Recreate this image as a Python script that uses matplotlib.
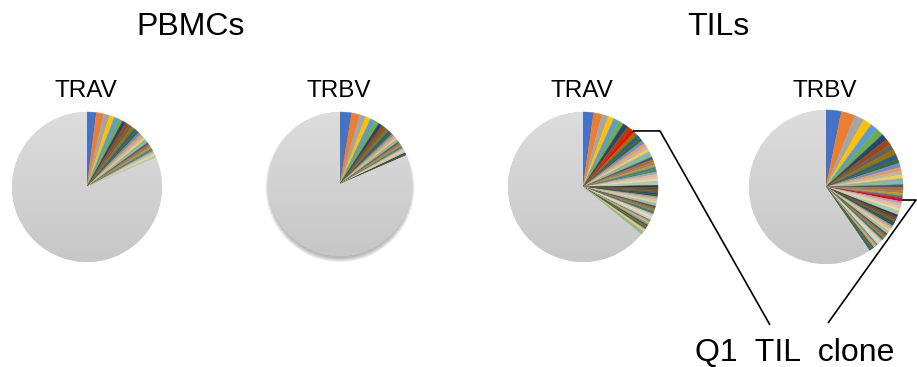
import colorsys
import numpy as np
import matplotlib
matplotlib.use("Agg")
import matplotlib.pyplot as plt
from matplotlib.patches import Circle
from matplotlib.colors import to_rgb

plt.rcParams['font.family'] = ['Liberation Sans', 'DejaVu Sans']

W, H = 917, 367

# Group titles and panel labels
groups = ["PBMCs", "TILs"]
panel_labels = ["TRAV", "TRBV", "TRAV", "TRBV"]
callout_text = "Q1  TIL  clone"

# V-gene usage (%); last entry of each list is the pooled remainder (grey)
pbmc_trav = [2.0, 1.6, 1.3, 1.1, 1.0, 0.9, 0.8, 0.8, 0.7, 0.7,
             0.6, 0.6, 0.55, 0.5, 0.5, 0.45, 0.45, 0.4, 0.4, 0.4,
             0.35, 0.35, 0.3, 0.3, 0.3, 0.3, 0.25, 0.25, 0.25, 0.2,
             81.4]
pbmc_trbv = [2.6, 1.8, 1.4, 1.2, 1.1, 1.0, 0.8, 0.7, 0.6, 0.6,
             0.5, 0.5, 0.45, 0.4, 0.4, 0.35, 0.35, 0.3, 0.3, 0.3,
             0.3, 0.25, 0.25, 0.25, 0.2, 0.2, 0.2, 0.2, 0.2, 0.2,
             0.15, 0.15, 0.3,
             81.5]
til_trav = [2.3, 1.8, 1.4, 1.3, 1.2, 1.1, 1.1, 1.0, 0.8,
            0.9, 0.8, 0.8, 0.7, 0.7, 0.7, 0.65, 0.65, 0.6, 0.6,
            0.6, 0.55, 0.55, 0.55, 0.5, 0.5, 0.5, 0.5, 0.45, 0.45,
            0.45, 0.45, 0.4, 0.4, 0.4, 0.4, 0.4, 0.35, 0.35, 0.35,
            0.35, 0.35, 0.3, 0.3, 0.3, 0.3, 0.3, 0.3, 0.25, 0.25,
            0.25, 0.25, 0.25, 0.25, 0.2, 0.2, 0.2, 0.2, 0.2, 0.2,
            0.2, 0.2, 0.15, 0.15, 0.15, 0.15, 0.15, 0.1, 0.1, 0.1,
            0.4, 0.4, 0.35,
            64.3]
til_trbv = [3.2, 2.9, 2.0, 1.8, 1.6, 1.5, 1.3, 1.3, 1.2, 1.1,
            1.0, 0.9, 0.9, 0.8, 0.8, 0.7, 0.7, 0.6, 0.6, 0.6,
            0.55, 0.55, 0.5, 0.7,
            0.5, 0.5, 0.5, 0.45, 0.45, 0.45, 0.45, 0.4, 0.4, 0.4,
            0.4, 0.4, 0.35, 0.35, 0.35, 0.35, 0.3, 0.3, 0.3, 0.3,
            0.3, 0.25, 0.25, 0.25, 0.25, 0.25, 0.2, 0.2, 0.2, 0.2,
            0.2, 0.2, 0.2, 0.15, 0.15, 0.15, 0.15, 0.1, 0.1, 0.1,
            0.3, 0.25,
            59.0]
panels = [pbmc_trav, pbmc_trbv, til_trav, til_trbv]
# slice holding the Q1 TIL clone in each TIL panel
clone_index = [None, None, 8, 23]

# layout in pixel units (x, y from top, radius)
centers = [(87, 187, 75), (340, 184, 72), (583, 187, 75), (826, 187, 77)]
shadow = [False, True, False, False]

# Office-style series palette
accents = ["#4472C4", "#ED7D31", "#A5A5A5", "#FFC000", "#5B9BD5", "#70AD47"]
mods = [(1.0, 0.0), (0.6, 0.0), (0.8, 0.2), (0.8, 0.0), (0.6, 0.4),
        (0.5, 0.0), (0.7, 0.3), (0.7, 0.0), (0.5, 0.5)]
palette = []
for mod, off in mods:
    for c in accents:
        h, l, s = colorsys.rgb_to_hls(*to_rgb(c))
        palette.append(colorsys.hls_to_rgb(h, min(1.0, l * mod + off), s))

fig = plt.figure(figsize=(W / 100, H / 100), dpi=100)
ax = fig.add_axes([0, 0, 1, 1])

grad = np.linspace(0.865, 0.78, 256)[:, None]
grad_rgb = np.dstack([grad, grad, grad])

clone_points = []
for vals, (cx, cy, r), cidx, shd in zip(panels, centers, clone_index, shadow):
    y0 = H - cy
    if shd:
        for i in range(7):
            ax.add_patch(Circle((cx, y0 - 3.5), r - 1.5 + i * 0.7,
                                color="black", alpha=0.045, lw=0, zorder=0))
    cols = [palette[i % len(palette)] for i in range(len(vals) - 1)]
    if cidx is not None:
        cols[cidx] = "#FF0000"
    cols.append("#D4D4D4")
    wedges, _ = ax.pie(vals, colors=cols, startangle=90, counterclock=False,
                       center=(cx, y0), radius=r,
                       wedgeprops=dict(linewidth=0.3))
    for w, c in zip(wedges, cols):
        w.set_edgecolor(c)
        w.set_zorder(2)
    rest = wedges[-1]
    rest.set_edgecolor("none")
    im = ax.imshow(grad_rgb, extent=(cx - r, cx + r, y0 - r, y0 + r),
                   origin="upper", zorder=2.5, interpolation="bilinear")
    im.set_clip_path(rest)
    if cidx is not None:
        w = wedges[cidx]
        mid = np.deg2rad((w.theta1 + w.theta2) / 2)
        clone_points.append((cx + r * np.cos(mid), y0 + r * np.sin(mid)))

# call-out lines from the clone slices to the label
lc = dict(color="black", lw=1.2, zorder=5, solid_capstyle="butt")
(x3, y3), (x4, y4) = clone_points
ax.plot([x3, 660, 770], [y3, y3, H - 325], **lc)
ax.plot([x4, 916, 828], [y4, y4, H - 323], **lc)

ax.text(191, H - 35, groups[0], fontsize=23, ha="center", va="baseline")
ax.text(718, H - 35, groups[1], fontsize=23, ha="center", va="baseline")
for (cx, cy, r), lab in zip(centers, panel_labels):
    ax.text(cx - 1, H - 97, lab, fontsize=17.5, ha="center", va="baseline")
ax.text(795, H - 361, callout_text, fontsize=23, ha="center", va="baseline")

ax.set_xlim(0, W)
ax.set_ylim(0, H)
ax.set_aspect("equal")
ax.axis("off")
fig.savefig("out.png", dpi=100, facecolor="white")
